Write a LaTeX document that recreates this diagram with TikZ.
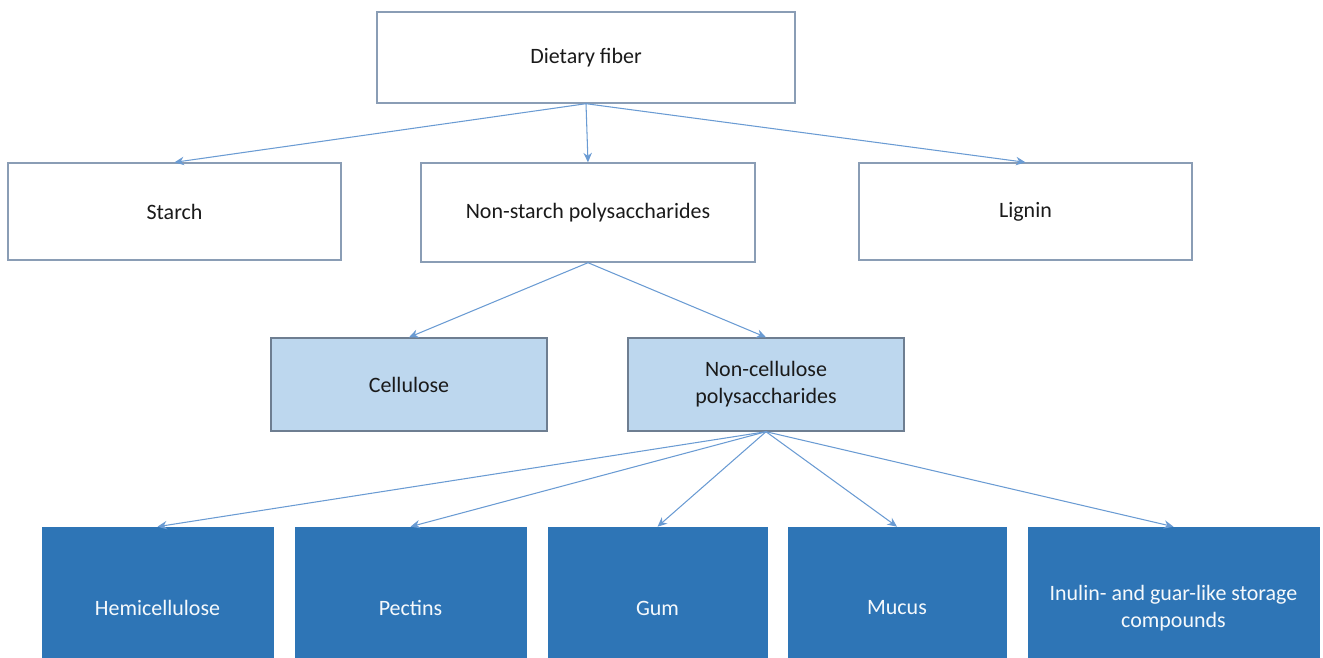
\documentclass[tikz,border=0pt]{standalone}
\usepackage{fontspec}
\setmainfont{Carlito}
\usetikzlibrary{arrows.meta}
\definecolor{boxline}{HTML}{8A9DB5}
\definecolor{paleblue}{HTML}{BDD7EE}
\definecolor{deepblue}{HTML}{2E75B6}
\definecolor{arrowblue}{HTML}{6A9BD3}
\definecolor{inktext}{HTML}{1A1A1A}
\begin{document}
\begin{tikzpicture}[x=0.02cm, y=-0.02cm,
                    >={Stealth[length=1.9mm,width=1.7mm]}, line cap=round,
                    plainbox/.style={draw=boxline, fill=white, thick, text=inktext,
                                     align=center, inner sep=0pt},
                    palebox/.style={plainbox, fill=paleblue, draw=boxline!80!black},
                    deepbox/.style={draw=deepblue, fill=deepblue, text=white!85!paleblue,
                                    align=center, inner sep=0pt,
                                    minimum height=3.24cm},
                    link/.style={->, arrowblue, semithick}
                   ]
\fontsize{12.5}{15.4}\selectfont
\useasboundingbox (0,0) rectangle (1323,657);
\clip (0,0) rectangle (1323,657);

% top levels
\node[plainbox, minimum width=8.36cm, minimum height=1.82cm] (fiber) at (586,57.5) {Dietary fiber};
\node[plainbox, minimum width=6.66cm, minimum height=1.94cm] (starch) at (174.5,211.5) {Starch};
\node[plainbox, minimum width=6.68cm, minimum height=1.98cm] (nsp) at (588,212.5) {Non-starch polysaccharides};
\node[plainbox, minimum width=6.66cm, minimum height=1.94cm] (lignin) at (1025.5,211.5) {Lignin};

\node[palebox, minimum width=5.52cm, minimum height=1.86cm] (cellulose) at (409,384.5) {Cellulose};
\node[palebox, minimum width=5.52cm, minimum height=1.86cm] (noncell) at (766,384.5) {Non-cellulose\\polysaccharides};

% bottom row, runs past the lower edge
\node[deepbox, minimum width=4.62cm] (hemi) at (157.5,608) {Hemicellulose};
\node[deepbox, minimum width=4.62cm] (pectin) at (410.5,608) {Pectins};
\node[deepbox, minimum width=4.38cm] (gum) at (657.5,608) {Gum};
\node[deepbox, minimum width=4.36cm] (mucus) at (897,608) {Mucus};
\node[deepbox, minimum width=5.82cm] (inulin) at (1173.5,608) {Inulin- and guar-like storage\\compounds};

\foreach \kid in {starch,nsp,lignin}
    \draw[link] (fiber.south) -- (\kid.north);
\foreach \kid in {cellulose,noncell}
    \draw[link] (nsp.south) -- (\kid.north);
\foreach \kid in {hemi,pectin,gum,mucus,inulin}
    \draw[link] (noncell.south) -- (\kid.north);
\end{tikzpicture}
\end{document}
